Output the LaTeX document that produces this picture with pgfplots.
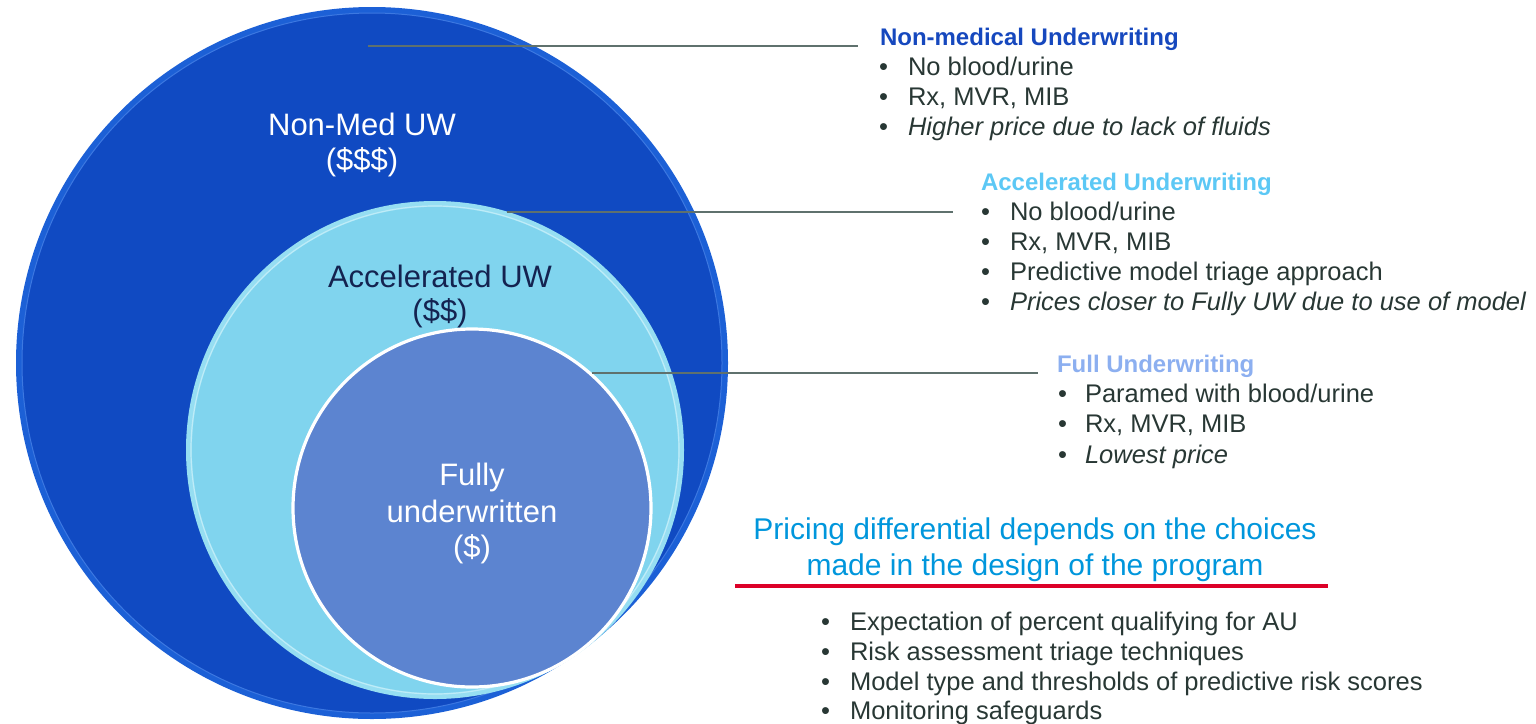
\documentclass[border=0pt]{standalone}
\usepackage{pgfplots}
\pgfplotsset{compat=1.18}
\usepackage{fontspec}
\setmainfont{Liberation Sans}

\definecolor{outerblue}{RGB}{16,74,194}
\definecolor{outerrim}{RGB}{28,96,214}
\definecolor{outerring}{RGB}{60,120,225}
\definecolor{midcyan}{RGB}{128,212,238}
\definecolor{midrim}{RGB}{150,222,242}
\definecolor{midring}{RGB}{190,236,248}
\definecolor{innerblue}{RGB}{92,132,208}
\definecolor{leader}{RGB}{95,113,109}
\definecolor{hdrone}{RGB}{22,72,190}
\definecolor{hdrtwo}{RGB}{92,200,245}
\definecolor{hdrthree}{RGB}{140,175,240}
\definecolor{body}{RGB}{40,55,52}
\definecolor{navy}{RGB}{20,35,80}
\definecolor{pricing}{RGB}{0,150,220}
\definecolor{redline}{RGB}{220,0,40}

\newcommand\circfont{\fontsize{15.5}{18}\selectfont}
\newcommand\hdrfont{\fontsize{12}{14}\selectfont\bfseries}
\newcommand\bodyfont{\fontsize{12.75}{15}\selectfont}
\newcommand\pricefont{\fontsize{15}{18}\selectfont}
\tikzset{lbl/.style={inner sep=0pt, outer sep=0pt}}
% bullet item: bullet x, text x, baseline y, text
\newcommand\bitem[4]{%
  \node[lbl, anchor=base west, text=body, font=\bodyfont] at (axis cs:#1,#3) {•};
  \node[lbl, anchor=base west, text=body, font=\bodyfont] at (axis cs:#2,#3) {#4};}

\begin{document}
\begin{tikzpicture}
\begin{axis}[
    width=768pt, height=361.5pt, scale only axis,
    xmin=0, xmax=1536, ymin=0, ymax=723,
    y dir=reverse,
    hide axis, clip=false,
  ]
  % nested circles
  \fill[outerrim] (axis cs:372,363) circle[radius=356];
  \fill[outerblue] (axis cs:372,363) circle[radius=350];
  \draw[outerring, line width=0.5pt] (axis cs:372,363) circle[radius=350];
  \fill[midrim] (axis cs:435,450) circle[radius=249];
  \fill[midcyan] (axis cs:435,450) circle[radius=243];
  \draw[midring, line width=0.6pt] (axis cs:435,450) circle[radius=244];
  \fill[innerblue, draw=white, line width=1.6pt] (axis cs:472,508) circle[radius=179];

  % leader lines
  \addplot[leader, line width=1pt] coordinates {(368,46) (858,46)};
  \addplot[leader, line width=1pt] coordinates {(507,212) (953,212)};
  \addplot[leader, line width=1pt] coordinates {(592,373) (1038,373)};

  % circle labels
  \node[lbl, anchor=base, text=white, font=\circfont] at (axis cs:362,135) {Non-Med UW};
  \node[lbl, anchor=base, text=white, font=\circfont] at (axis cs:362,170) {(\$\$\$)};
  \node[lbl, anchor=base, text=navy, font=\circfont] at (axis cs:440,287) {Accelerated UW};
  \node[lbl, anchor=base, text=navy, font=\circfont] at (axis cs:440,321) {(\$\$)};
  \node[lbl, anchor=base, text=white, font=\circfont] at (axis cs:472,485) {Fully};
  \node[lbl, anchor=base, text=white, font=\circfont] at (axis cs:472,522) {underwritten};
  \node[lbl, anchor=base, text=white, font=\circfont] at (axis cs:472,557) {(\$)};

  % Non-medical block
  \node[lbl, anchor=base west, text=hdrone, font=\hdrfont] at (axis cs:880,45) {Non-medical Underwriting};
  \bitem{879}{908}{75}{No blood/urine}
  \bitem{879}{908}{105}{Rx, MVR, MIB}
  \bitem{879}{908}{135}{\itshape Higher price due to lack of fluids}

  % Accelerated block
  \node[lbl, anchor=base west, text=hdrtwo, font=\hdrfont] at (axis cs:981,190) {Accelerated Underwriting};
  \bitem{981}{1010}{220}{No blood/urine}
  \bitem{981}{1010}{250}{Rx, MVR, MIB}
  \bitem{981}{1010}{280}{Predictive model triage approach}
  \bitem{981}{1010}{310}{\itshape Prices closer to Fully UW due to use of model}

  % Full block
  \node[lbl, anchor=base west, text=hdrthree, font=\hdrfont] at (axis cs:1057,372) {Full Underwriting};
  \bitem{1058}{1085}{402}{Paramed with blood/urine}
  \bitem{1058}{1085}{432}{Rx, MVR, MIB}
  \bitem{1058}{1085}{463}{\itshape Lowest price}

  % pricing note
  \node[lbl, anchor=base, text=pricing, font=\pricefont] at (axis cs:1035,539) {Pricing differential depends on the choices};
  \node[lbl, anchor=base, text=pricing, font=\pricefont] at (axis cs:1035,575) {made in the design of the program};
  \addplot[redline, line width=2pt] coordinates {(735,586) (1328,586)};
  \bitem{821}{850}{630}{Expectation of percent qualifying for AU}
  \bitem{821}{850}{660}{Risk assessment triage techniques}
  \bitem{821}{850}{690}{Model type and thresholds of predictive risk scores}
  \bitem{821}{850}{719}{Monitoring safeguards}
\end{axis}
\pgfresetboundingbox
\path (current axis.south west) rectangle (current axis.north east);
\end{tikzpicture}
\end{document}
